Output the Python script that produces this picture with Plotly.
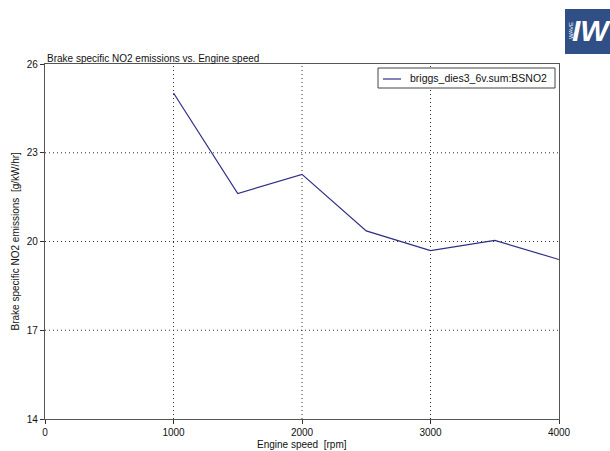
import plotly.graph_objects as go

# Engine speed sweep and brake specific NO2 emissions
engine_speed = [1000, 1500, 2000, 2500, 3000, 3500, 4000]
bsno2 = [25.02, 21.62, 22.27, 20.36, 19.69, 20.04, 19.39]
series_name = "briggs_dies3_6v.sum:BSNO2"

x_ticks = [0, 1000, 2000, 3000, 4000]
y_ticks = [14, 17, 20, 23, 26]

FONT = "Liberation Sans, Arial, sans-serif"
LINE_COLOR = "#2e2e86"

fig = go.Figure()
fig.add_trace(go.Scatter(
    x=engine_speed, y=bsno2, mode="lines", name=series_name,
    line=dict(color=LINE_COLOR, width=1.2), showlegend=False,
))

# left/top/right/bottom pixel margins of the 610x451 canvas
L, R, T, B = 45, 51, 64, 32
W, H = 610, 451
pw, ph = W - L - R, H - T - B

def px(x):
    return (x - L) / pw

def py(y):
    return (H - B - y) / ph

axis_common = dict(
    showline=True, linecolor="#555555", linewidth=1.2, mirror=True,
    ticks="outside", ticklen=4, tickcolor="#333333",
    tickfont=dict(family=FONT, size=10, color="#111111"),
    showgrid=False, zeroline=False, automargin=False,
)

fig.update_layout(
    width=W, height=H,
    margin=dict(l=L, r=R, t=T, b=B),
    paper_bgcolor="white", plot_bgcolor="white",
    showlegend=False,
    xaxis=dict(range=[0, 4000], tickvals=x_ticks, ticktext=[str(v) for v in x_ticks],
               **axis_common),
    yaxis=dict(range=[14, 26], tickvals=y_ticks, ticktext=[str(v) for v in y_ticks],
               **axis_common),
)

# dotted interior grid lines
shapes = []
dot = "1px,3px"
for xv in x_ticks[1:-1]:
    shapes.append(dict(type="line", xref="x", yref="paper", x0=xv, x1=xv, y0=0, y1=1,
                       line=dict(color="#333333", width=1, dash=dot), layer="below"))
for yv in y_ticks[1:-1]:
    shapes.append(dict(type="line", xref="paper", yref="y", x0=0, x1=1, y0=yv, y1=yv,
                       line=dict(color="#333333", width=1, dash=dot), layer="below"))

# legend box with line sample
shapes.append(dict(type="rect", xref="paper", yref="paper",
                   x0=px(378), x1=px(555), y0=py(88), y1=py(68),
                   fillcolor="white", line=dict(color="#444444", width=1), layer="above"))
shapes.append(dict(type="line", xref="paper", yref="paper",
                   x0=px(383), x1=px(401), y0=py(79), y1=py(79),
                   line=dict(color=LINE_COLOR, width=1.2), layer="above"))

# WAVE logo badge in the upper right corner
shapes.append(dict(type="rect", xref="paper", yref="paper",
                   x0=px(565), x1=px(612), y0=py(54), y1=py(9),
                   fillcolor="#2f4f86", line=dict(width=0), layer="above"))
fig.update_layout(shapes=shapes)

annotations = [
    dict(text="Brake specific NO2 emissions vs. Engine speed", xref="paper", yref="paper",
         x=0, y=py(51), xanchor="left", yanchor="top", showarrow=False,
         font=dict(family=FONT, size=10, color="#111111")),
    dict(text=series_name, xref="paper", yref="paper",
         x=px(408), y=py(78.5), xanchor="left", yanchor="middle", showarrow=False,
         font=dict(family=FONT, size=10.5, color="#111111")),
    dict(text="Engine speed  [rpm]", xref="paper", yref="paper",
         x=0.5, y=py(445), xanchor="center", yanchor="middle", showarrow=False,
         font=dict(family=FONT, size=10, color="#111111")),
    dict(text="Brake specific NO2 emissions  [g/kW/hr]", xref="paper", yref="paper",
         x=px(15), y=0.5, xanchor="center", yanchor="middle", showarrow=False,
         textangle=-90, font=dict(family=FONT, size=10, color="#111111")),
    dict(text="<b><i>IW</i></b>", xref="paper", yref="paper", x=px(591), y=py(31),
         xanchor="center", yanchor="middle", showarrow=False,
         font=dict(family=FONT, size=30, color="white")),
    dict(text="WAVE", xref="paper", yref="paper", x=px(571), y=py(31),
         xanchor="center", yanchor="middle", showarrow=False, textangle=-90,
         font=dict(family=FONT, size=6, color="white")),
]
fig.update_layout(annotations=annotations)

fig.write_html("out.html")
